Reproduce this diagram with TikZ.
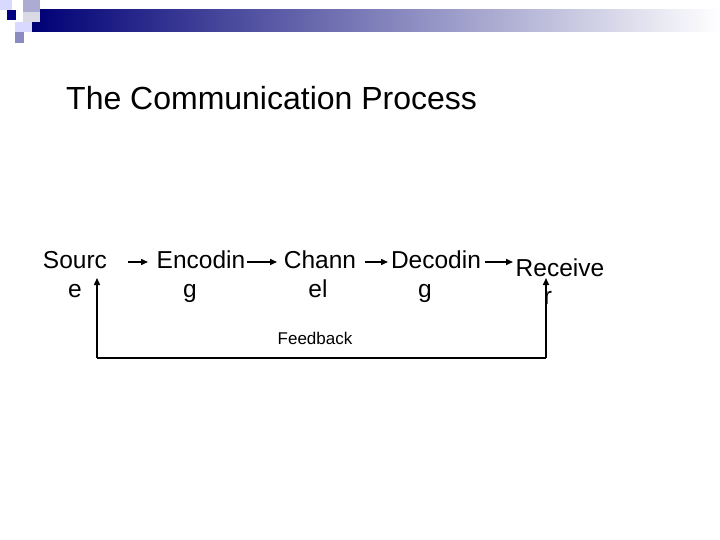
\documentclass[tikz,border=0pt]{standalone}
\usepackage{fontspec}
\setmainfont{Liberation Sans}
\usetikzlibrary{arrows.meta}
\begin{document}
\begin{tikzpicture}[x=1pt,y=-1pt,
  lbl/.style={font=\fontsize{24.5}{28}\selectfont,inner sep=0pt,anchor=base},
  arr/.style={-{Triangle[length=7pt,width=6pt]},line width=1.5pt}]
\useasboundingbox (0,0) rectangle (720,540);
\fill[white] (0,0) rectangle (720,540);
\shade[left color=blue!40!black!90!blue, right color=white] (32,10) rectangle (720,32);
\fill[blue!15!white] (0,0) rectangle (12,10);
\fill[blue!30!gray!50] (23,0) rectangle (40,12);
\fill[blue!15!gray!25] (23,12) rectangle (40,22);
\fill[blue!50!black] (7,10) rectangle (16,20);
\fill[blue!15!white] (15,22) rectangle (32,32);
\fill[blue!30!gray!70] (15,32) rectangle (24,43);
\node[font=\fontsize{32}{36}\selectfont,anchor=base west,inner sep=0pt] (title) at (66,110) {The Communication Process};
\node[lbl] (s1) at (75,268) {Sourc}; \node[lbl] (s2) at (75,297) {e};
\node[lbl] (e1) at (201,268) {Encodin}; \node[lbl] (e2) at (190,297) {g};
\node[lbl] (c1) at (320,268) {Chann}; \node[lbl] (c2) at (318,297) {el};
\node[lbl] (d1) at (436,268) {Decodin}; \node[lbl] (d2) at (425,297) {g};
\node[lbl] (r1) at (560,276) {Receive}; \node[lbl] (r2) at (548,304) {r};
\node[font=\fontsize{17}{20}\selectfont,inner sep=0pt,anchor=base] (fb) at (315,344) {Feedback};
\coordinate (a1) at (128,262); \coordinate (b1) at (148,262);
\coordinate (a2) at (247,262); \coordinate (b2) at (277,262);
\coordinate (a3) at (365,262); \coordinate (b3) at (388,262);
\coordinate (a4) at (485,262); \coordinate (b4) at (513,262);
\draw[arr] (a1)--(b1); \draw[arr] (a2)--(b2); \draw[arr] (a3)--(b3); \draw[arr] (a4)--(b4);
\coordinate (p1) at (97,358); \coordinate (p2) at (546,358);
\coordinate (u1) at (97,278); \coordinate (u2) at (546,278);
\draw[line width=1.5pt] (p1)--(p2);
\draw[arr] (p1)--(u1); \draw[arr] (p2)--(u2);
\end{tikzpicture}
\end{document}
